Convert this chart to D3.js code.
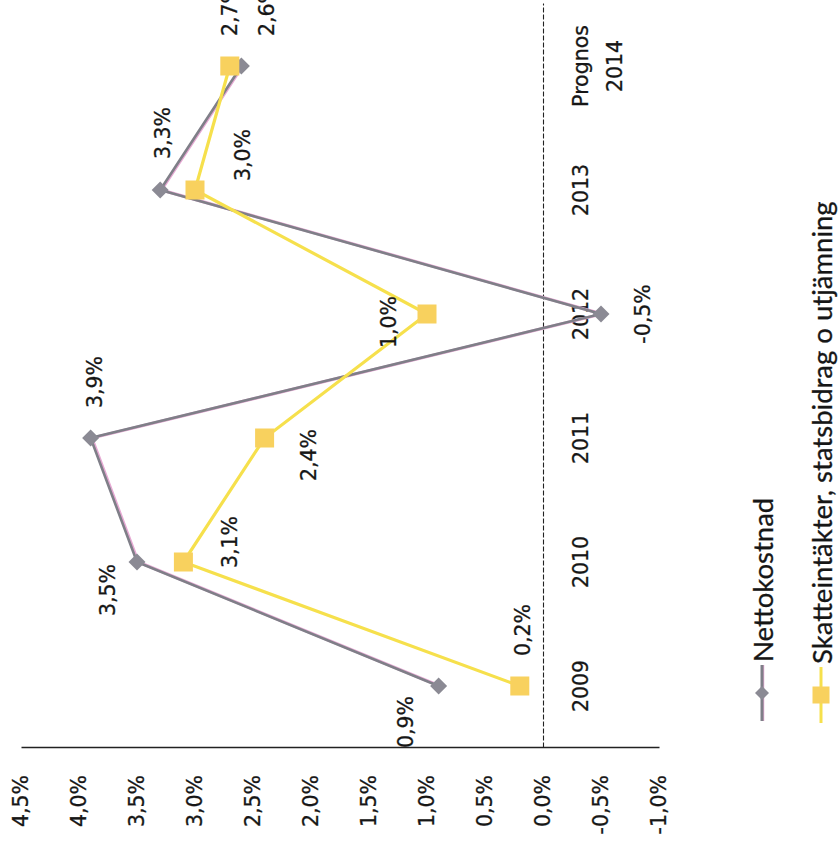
<!DOCTYPE html>
<html><head><meta charset="utf-8">
<script src="https://cdn.jsdelivr.net/npm/d3@7"></script>
<style>body{margin:0;background:#fff} svg{display:block}</style>
</head><body>
<svg id="chart" width="838" height="850"></svg>
<script>
// ---- data ----
const categories = ["2009", "2010", "2011", "2012", "2013", "Prognos 2014"];
const nettokostnad = [0.9, 3.5, 3.9, -0.5, 3.3, 2.6];
const skatteintakter = [0.2, 3.1, 2.4, 1.0, 3.0, 2.7];
const seriesNames = ["Nettokostnad", "Skatteintäkter, statsbidrag o utjämning"];
const tickValues = [-1, -0.5, 0, 0.5, 1, 1.5, 2, 2.5, 3, 3.5, 4, 4.5];
const tickLabels = ["-1,0%", "-0,5%", "0,0%", "0,5%", "1,0%", "1,5%", "2,0%", "2,5%", "3,0%", "3,5%", "4,0%", "4,5%"];

// ---- layout (chart drawn unrotated, then turned 90° counter-clockwise) ----
const nettoLabelOffsets = [[-36, -33], [-28, -29], [56, 4], [0, 42], [57, 3], [56, 26]];
const skattLabelOffsets = [[56, 3], [20, 47], [-17, 44], [-8, -38], [35, 48], [56, 0]];
const FONT = "DejaVu Sans, Verdana, sans-serif";
const FS = 20.5;
const TXT = "#161616";

const svg = d3.select("#chart");
const g = svg.append("g").attr("transform", "translate(0,850) rotate(-90)");

const x = d3.scaleBand().domain(categories).range([102, 846]);
const xc = c => x(c) + x.bandwidth() / 2;
const y = d3.scaleLinear().domain([-1, 4.5]).range([659, 21]);

function textStyle(sel) {
  sel.attr("font-family", FONT).attr("font-size", FS).attr("fill", TXT)
     .attr("stroke", TXT).attr("stroke-width", 0.3);
}

// value axis
const yAxis = d3.axisLeft(y)
  .tickValues(tickValues)
  .tickFormat((d, i) => tickLabels[i])
  .tickSize(0)
  .tickPadding(27);
const ya = g.append("g").attr("transform", "translate(102,0)").call(yAxis);
ya.select(".domain").attr("stroke", "#222").attr("stroke-width", 1.6);
ya.selectAll("text").call(textStyle);

// category axis at zero (dashed)
const xAxis = d3.axisBottom(x).tickSize(0).tickFormat("");
const xa = g.append("g").attr("transform", `translate(0,${y(0)})`).call(xAxis);
xa.select(".domain").attr("stroke", "#222").attr("stroke-width", 1.1).attr("stroke-dasharray", "5,2");
xa.selectAll(".tick").each(function (c) {
  const lines = c.split(" ");
  const t = d3.select(this).append("text")
    .attr("text-anchor", "middle")
    .attr("y", 45)
    .call(textStyle);
  lines.forEach((ln, i) => {
    t.append("tspan").attr("x", 0).attr("dy", i === 0 ? 0 : 34).text(ln);
  });
});

const line = d3.line().x((d, i) => xc(categories[i])).y(d => y(d));
const diamond = "M0,-8.5L8.5,0L0,8.5L-8.5,0Z";
const fmt = v => d3.format(".1f")(v).replace(".", ",").replace("\u2212", "-") + "%";

// Nettokostnad (grey line with the pink fringe seen in the scan)
g.append("path").datum(nettokostnad).attr("d", line)
  .attr("transform", "translate(0,1.3)")
  .attr("fill", "none").attr("stroke", "#e6a9d3").attr("stroke-width", 3);
g.append("path").datum(nettokostnad).attr("d", line)
  .attr("fill", "none").attr("stroke", "#7f7f88").attr("stroke-width", 2.6);
g.selectAll(".nm").data(nettokostnad).join("path").attr("class", "nm")
  .attr("d", diamond)
  .attr("transform", (d, i) => `translate(${xc(categories[i])},${y(d)})`)
  .attr("fill", "#8b8a94");

// Skatteintäkter
g.append("path").datum(skatteintakter).attr("d", line)
  .attr("fill", "none").attr("stroke", "#f6e04c").attr("stroke-width", 3.2);
g.selectAll(".sm").data(skatteintakter).join("rect").attr("class", "sm")
  .attr("x", (d, i) => xc(categories[i]) - 9.5)
  .attr("y", d => y(d) - 9.5)
  .attr("width", 19).attr("height", 19)
  .attr("fill", "#f8d15e");

// data labels
function labels(vals, offs, cls) {
  g.selectAll("." + cls).data(vals).join("text").attr("class", cls)
    .attr("x", (d, i) => xc(categories[i]) + offs[i][0])
    .attr("y", (d, i) => y(d) + offs[i][1])
    .attr("text-anchor", "middle")
    .attr("dominant-baseline", "central")
    .call(textStyle)
    .text(d => fmt(d));
}
labels(nettokostnad, nettoLabelOffsets, "nl");
labels(skatteintakter, skattLabelOffsets, "sl");

// legend
const legendPos = [{u: 157, v: 762}, {u: 155, v: 821}];
const lg = g.append("g");
seriesNames.forEach((name, i) => {
  const p = legendPos[i];
  const item = lg.append("g").attr("transform", `translate(${p.u},${p.v})`);
  if (i === 0) {
    item.append("line").attr("x1", -28).attr("x2", 28).attr("y1", 1).attr("y2", 1)
      .attr("stroke", "#e6a9d3").attr("stroke-width", 2.5);
  }
  item.append("line").attr("x1", -28).attr("x2", 28).attr("y1", 0).attr("y2", 0)
    .attr("stroke", i === 0 ? "#7f7f88" : "#f6e04c").attr("stroke-width", 3);
  if (i === 0) {
    item.append("path").attr("d", "M0,-7L7,0L0,7L-7,0Z").attr("fill", "#8b8a94");
  } else {
    item.append("rect").attr("x", -8.5).attr("y", -8.5).attr("width", 17).attr("height", 17).attr("fill", "#f8d15e");
  }
  item.append("text").attr("x", 31).attr("y", 0)
    .attr("dominant-baseline", "central")
    .attr("font-family", "Lato, Carlito, sans-serif").attr("font-size", 27.5)
    .attr("fill", TXT).attr("stroke", TXT).attr("stroke-width", 0.3)
    .text(name);
});
</script>
</body></html>
